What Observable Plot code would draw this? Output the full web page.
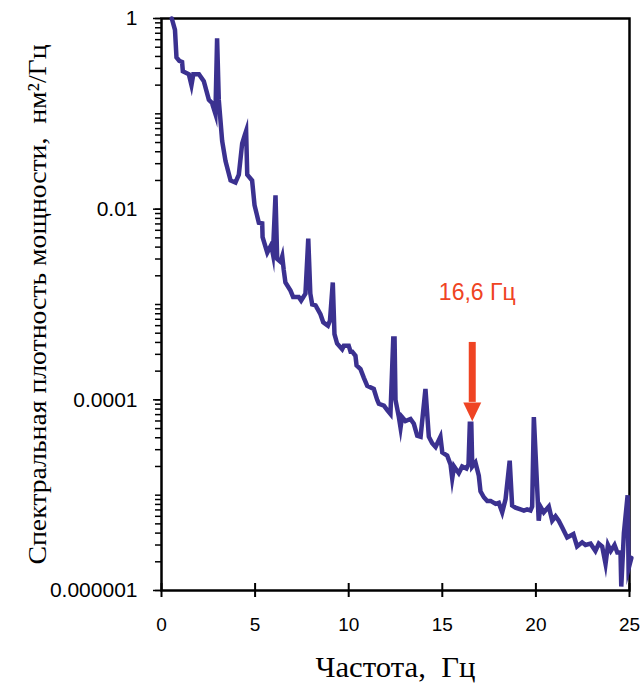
<!DOCTYPE html>
<html><head><meta charset="utf-8">
<script src="https://cdn.jsdelivr.net/npm/d3@7"></script>
<script src="https://cdn.jsdelivr.net/npm/@observablehq/plot@0.6"></script>
<style>body{margin:0;background:#fff} svg{display:block}</style>
</head><body><div id="chart"></div>
<script>
const freq = [0.55,0.72,0.8,0.95,1.1,1.14,1.3,1.46,1.6,1.7,2.0,2.26,2.53,2.7,2.88,2.97,3.06,3.24,3.42,3.69,3.95,4.13,4.31,4.45,4.52,4.58,4.84,4.97,5.2,5.38,5.4,5.65,5.86,5.95,6.09,6.18,6.36,6.45,6.53,6.62,6.89,7.03,7.33,7.46,7.69,7.84,7.95,8.05,8.23,8.49,8.64,8.89,9.0,9.15,9.24,9.38,9.65,9.74,10.0,10.1,10.19,10.36,10.42,10.63,10.81,10.99,11.34,11.52,11.61,11.88,12.06,12.23,12.38,12.45,12.5,12.68,12.77,12.85,13.03,13.3,13.48,13.66,13.84,14.1,14.28,14.46,14.64,14.9,15.0,15.26,15.44,15.53,15.63,15.88,16.06,16.29,16.4,16.47,16.55,16.6,16.77,16.95,17.04,17.22,17.4,17.58,17.85,18.02,18.2,18.38,18.6,18.73,18.91,19.18,19.36,19.53,19.71,19.8,19.89,20.15,20.24,20.42,20.69,20.87,21.05,21.22,21.4,21.67,22.0,22.2,22.47,22.65,22.92,23.18,23.36,23.54,23.72,23.85,24.0,24.2,24.35,24.52,24.56,24.7,24.9,24.95,25.1];
const psd = [1.0,0.76,0.39,0.36,0.35,0.28,0.27,0.26,0.20,0.26,0.26,0.22,0.14,0.13,0.10,0.62,0.14,0.052,0.032,0.020,0.019,0.023,0.049,0.060,0.066,0.023,0.020,0.011,0.0072,0.0071,0.0051,0.0035,0.0042,0.0034,0.014,0.0030,0.0028,0.0032,0.0023,0.0017,0.0014,0.0012,0.0012,0.0011,0.0013,0.0049,0.0013,0.0010,0.00098,0.00079,0.00065,0.00060,0.00068,0.0017,0.00049,0.00039,0.00034,0.00037,0.00037,0.00032,0.00032,0.00029,0.00023,0.00021,0.00017,0.00014,0.00013,0.00010,9.1e-5,8.7e-5,7.8e-5,7.1e-5,0.00044,0.00044,1.0e-4,6.6e-5,5.1e-5,6.6e-5,6.0e-5,6.3e-5,5.6e-5,4.2e-5,4.1e-5,0.00013,4.1e-5,3.5e-5,3.2e-5,4.1e-5,2.8e-5,2.6e-5,2.1e-5,1.5e-5,2.0e-5,1.7e-5,2.0e-5,1.9e-5,2.1e-5,5.6e-5,5.6e-5,2.0e-5,2.2e-5,1.6e-5,1.1e-5,9.5e-6,8.7e-6,8.7e-6,8.1e-6,8.3e-6,6.6e-6,9.1e-6,2.3e-5,7.8e-6,7.4e-6,7.1e-6,6.9e-6,7.1e-6,6.9e-6,7.6e-6,6.6e-5,5.4e-6,7.6e-6,6.6e-6,7.6e-6,5.4e-6,6.0e-6,5.4e-6,4.6e-6,3.6e-6,3.9e-6,2.9e-6,3.2e-6,3.0e-6,3.1e-6,2.6e-6,3.1e-6,2.9e-6,1.9e-6,3.0e-6,2.6e-6,3.0e-6,2.5e-6,2.5e-6,1.1e-6,4.0e-6,1.0e-5,1.7e-6,2.2e-6];

const xTicks = [0, 5, 10, 15, 20, 25];
const yMajorTicks = [1, 0.01, 0.0001, 0.000001];
const yMajorLabels = ["1", "0.01", "0.0001", "0.000001"];
const peakFreq = 16.6;
const peakArrowTop = 4.0e-4;
const peakArrowBase = 9.4e-5;
const peakLabelY = 1.33e-3;
const peakLabel = "16,6 Гц";
const xLabel = "Частота,  Гц";
const yLabel = "Спектральная плотность мощности,  нм²/Гц";

const data = freq.map((f, i) => ({f, p: psd[i]}));
const yMinorTicks = d3.scaleLog().domain([1e-6, 1]).ticks();

const downTriangle = {
  draw(ctx, size) {
    const r = Math.sqrt(size / Math.PI);
    ctx.moveTo(-r, 0);
    ctx.lineTo(r, 0);
    ctx.lineTo(0, 2.1 * r);
    ctx.closePath();
  }
};

const red = "#ef4423";
const serif = "'Liberation Serif', 'Times New Roman', serif";

const chart = Plot.plot({
  width: 640,
  height: 683,
  marginLeft: 161,
  marginRight: 11,
  marginTop: 18,
  marginBottom: 93,
  style: {fontFamily: "'Liberation Sans', Arial, sans-serif", fontSize: "19px", background: "#fff", color: "#000"},
  x: {domain: [0, 25], label: null},
  y: {type: "log", domain: [1e-6, 1], label: null},
  marks: [
    Plot.axisY({ticks: yMinorTicks, tickSize: 6, tickFormat: () => "", label: null, strokeWidth: 1.5}),
    Plot.axisY({ticks: yMajorTicks, tickSize: 8, tickPadding: 16, label: null, strokeWidth: 1.5, fontSize: 21,
      tickFormat: d => yMajorLabels[yMajorTicks.indexOf(d)]}),
    Plot.axisX({ticks: xTicks, tickSize: 7, tickPadding: 19.5, label: null, strokeWidth: 2, fontSize: 19, tickFormat: d => String(d)}),
    Plot.ruleX(xTicks, {x: d => d, y1: 1e-6, y2: 1e-6, insetTop: -7, stroke: "#000", strokeWidth: 2}),
    Plot.frame({stroke: "#000", strokeWidth: 2.5}),
    Plot.line(data, {x: "f", y: "p", stroke: "#3b3190", strokeWidth: 4.5, strokeLinejoin: "miter", strokeMiterlimit: 10}),
    Plot.ruleX([peakFreq], {x: d => d, y1: peakArrowTop, y2: peakArrowBase, stroke: red, strokeWidth: 7}),
    Plot.dot([peakFreq], {x: d => d, y: peakArrowBase, symbol: downTriangle, r: 9, fill: red, stroke: "none"}),
    Plot.text([peakLabel], {x: peakFreq, y: peakLabelY, dx: 5, fill: red, fontSize: 23, text: d => d}),
    Plot.text([xLabel], {frameAnchor: "bottom", dy: 77, lineAnchor: "middle", textAnchor: "middle", text: d => d,
      fontFamily: serif, fontSize: 30, fill: "#000", className: "xlab"}),
    Plot.text([yLabel], {frameAnchor: "left", rotate: -90, dx: -124, lineAnchor: "middle", textAnchor: "middle", text: d => d,
      fontFamily: serif, fontSize: 26, fill: "#000", className: "ylab"})
  ]
});
document.getElementById("chart").appendChild(chart);
// stretch axis titles to the lengths they have in the reference
d3.select(chart).selectAll(".xlab text").attr("textLength", 160).attr("lengthAdjust", "spacingAndGlyphs");
d3.select(chart).selectAll(".ylab text").attr("textLength", 520).attr("lengthAdjust", "spacingAndGlyphs");
</script>
</body></html>
